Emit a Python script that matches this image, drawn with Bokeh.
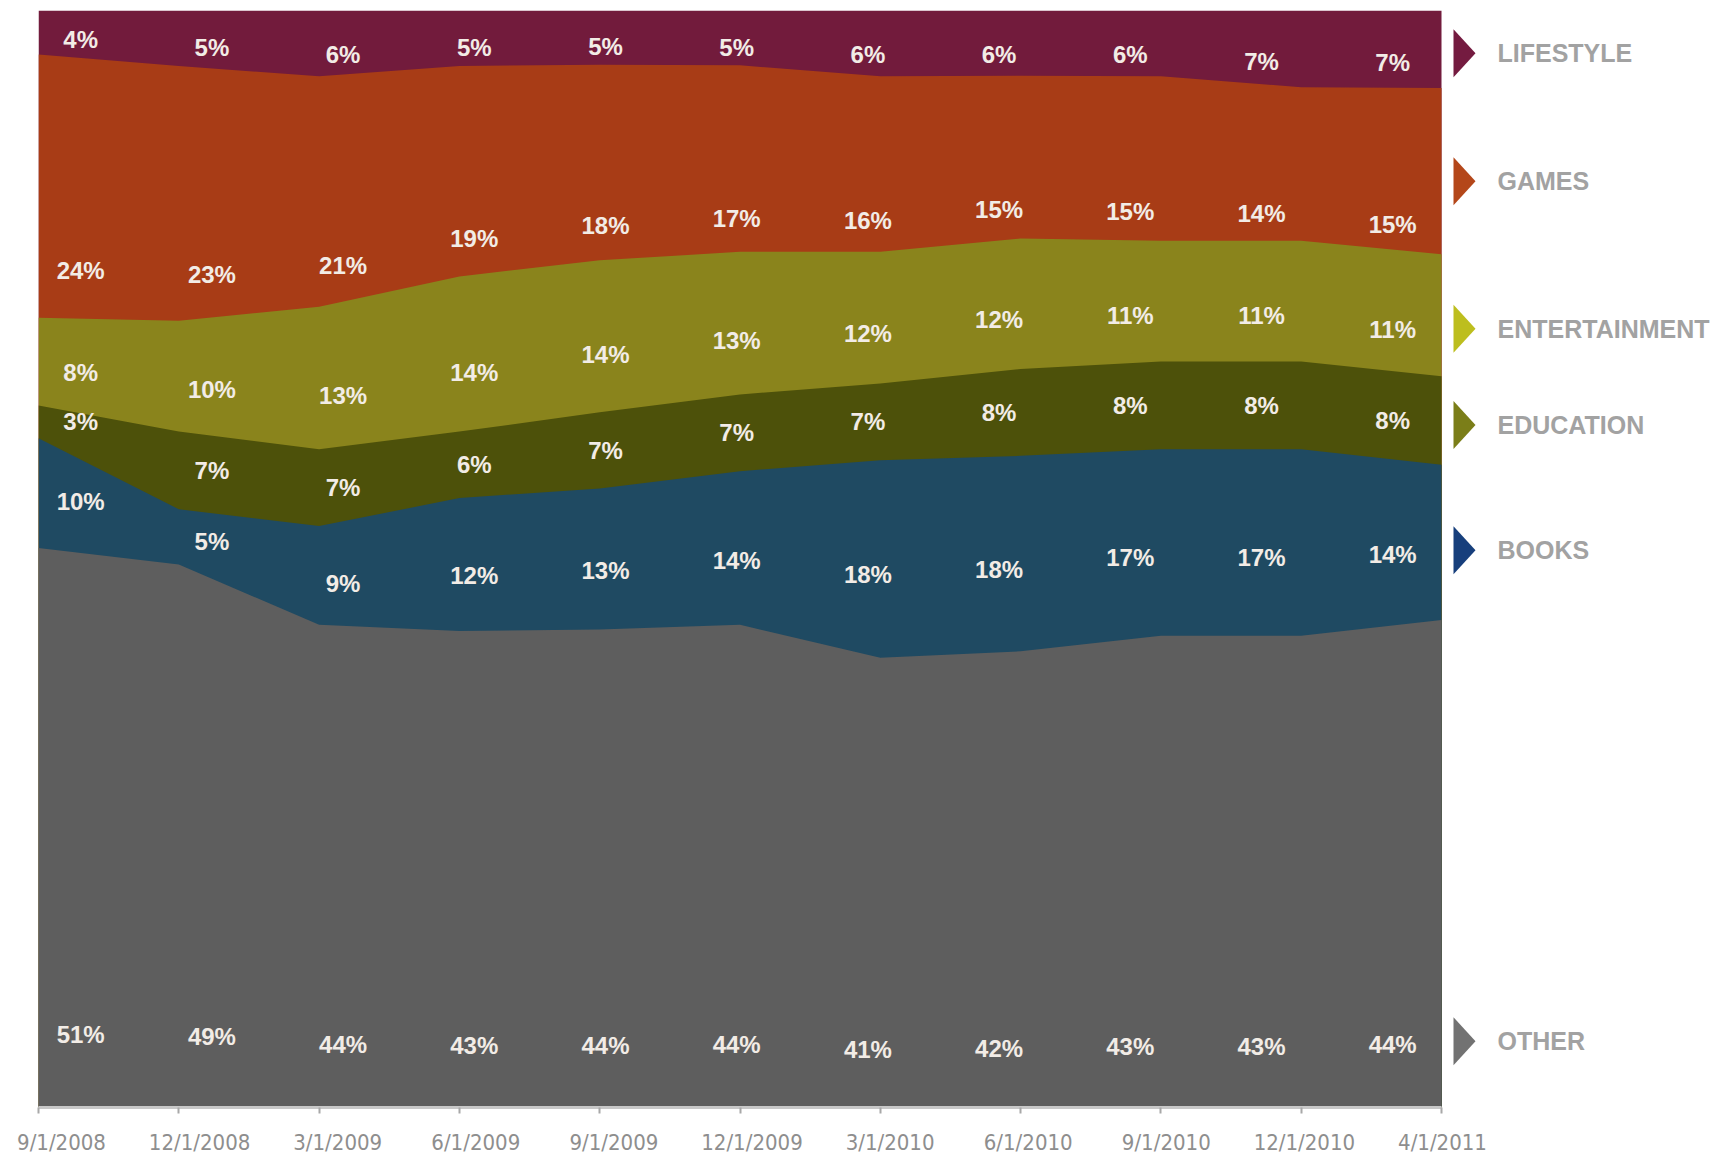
import numpy as np
from bokeh.plotting import figure
from bokeh.models import LinearAxis, FixedTicker, Range1d
from bokeh.core.properties import value
from bokeh.embed import file_html
from bokeh.resources import INLINE

# ---------------- data ----------------
dates = ["9/1/2008", "12/1/2008", "3/1/2009", "6/1/2009", "9/1/2009", "12/1/2009",
         "3/1/2010", "6/1/2010", "9/1/2010", "12/1/2010", "4/1/2011"]
series_names = ["OTHER", "BOOKS", "EDUCATION", "ENTERTAINMENT", "GAMES", "LIFESTYLE"]
other = [51, 49, 44, 43, 44, 44, 41, 42, 43, 43, 44]
books = [10, 5, 9, 12, 13, 14, 18, 18, 17, 17, 14]
education = [3, 7, 7, 6, 7, 7, 7, 8, 8, 8, 8]
entertainment = [8, 10, 13, 14, 14, 13, 12, 12, 11, 11, 11]
games = [24, 23, 21, 19, 18, 17, 16, 15, 15, 14, 15]
lifestyle = [4, 5, 6, 5, 5, 5, 6, 6, 6, 7, 7]

# ---------------- styles ----------------
area_colors = ["#5E5E5E", "#1F4A62", "#4D510A", "#8A841C", "#A83C16", "#721B3C"]
marker_colors = ["#727272", "#173F7C", "#7B7E18", "#BDBE1E", "#B4471A", "#741B40"]
label_anchor = [0.13, 0.42, 0.50, 0.38, 0.18, 0.33]     # relative height in band
legend_anchor = [0.136, 0.45, 0.45, 0.39, 0.44, 0.45]

values = [other, books, education, entertainment, games, lifestyle]
V = np.array(values, dtype=float)
share = V / V.sum(axis=0) * 100.0
top = np.cumsum(share, axis=0)
bottom = top - share
idx = np.arange(len(dates))

FRAME_W, FRAME_H = 1684, 1097
PX_UNIT = 140.3          # px per period on the main x scale
PX_PER_PCT = FRAME_H / 100.0

p = figure(frame_width=FRAME_W, frame_height=FRAME_H,
           x_range=Range1d(0, FRAME_W / PX_UNIT), y_range=Range1d(0, 100),
           output_backend="svg", toolbar_location=None,
           x_axis_location=None, y_axis_location=None,
           min_border_left=38, min_border_top=10, min_border_right=0, min_border_bottom=0,
           background_fill_color="white", border_fill_color="white")
p.outline_line_color = None
p.xgrid.visible = False
p.ygrid.visible = False

p.extra_x_ranges = {
    "pct": Range1d(-0.3216, -0.3216 + FRAME_W / 131.2),
    "lab": Range1d(-0.1666, -0.1666 + FRAME_W / 138.1),
}

# stacked areas (each drawn from 0 so there are no seams)
for k in reversed(range(len(values))):
    p.varea(x=idx, y1=0, y2=top[k], fill_color=area_colors[k], fill_alpha=1.0)

# percentage labels
for k in range(len(values)):
    ly = bottom[k] + label_anchor[k] * share[k]
    p.text(x=idx, y=ly, text=[f"{v}%" for v in values[k]], x_range_name="pct",
           text_align="center", text_baseline="middle",
           text_font=value("Liberation Sans"), text_font_style="bold",
           text_font_size="24px", text_color="#F2ECE6")

# right-side legend
last = idx[-1]
tri_off = 12 / PX_UNIT
tri_w = 22 / PX_UNIT
tri_h = 24 / PX_PER_PCT
txt_off = 56 / PX_UNIT
for k in range(len(values)):
    ly = bottom[k, -1] + legend_anchor[k] * share[k, -1]
    x0 = last + tri_off
    p.patch(x=[x0, x0, x0 + tri_w], y=[ly - tri_h, ly + tri_h, ly],
            fill_color=marker_colors[k], line_color=None)
    p.text(x=[last + txt_off], y=[ly], text=[series_names[k]],
           text_align="left", text_baseline="middle",
           text_font=value("Liberation Sans"), text_font_style="bold",
           text_font_size="25px", text_color="#A2A2A2")

# axis with tick marks
ax1 = LinearAxis(ticker=FixedTicker(ticks=[int(i) for i in idx]), bounds=(0, int(last)),
                 axis_line_color="#C8C8C8", axis_line_width=3,
                 major_tick_out=6, major_tick_in=0,
                 major_tick_line_color="#A8A8A8", major_tick_line_width=2,
                 minor_tick_line_color=None,
                 major_label_text_font_size="1px", major_label_standoff=0,
                 major_label_text_alpha=0)
ax1.major_label_overrides = {int(i): "" for i in idx}
p.add_layout(ax1, "below")

# axis with the date labels
ax2 = LinearAxis(x_range_name="lab", ticker=FixedTicker(ticks=[int(i) for i in idx]),
                 axis_line_color=None, major_tick_line_color=None, minor_tick_line_color=None,
                 major_tick_in=0, major_tick_out=0, major_label_standoff=16,
                 major_label_text_font="DejaVu Sans Condensed",
                 major_label_text_font_size="22px", major_label_text_color="#8E8E8E")
ax2.major_label_overrides = {int(i): d for i, d in zip(idx, dates)}
p.add_layout(ax2, "below")

open("out.html", "w").write(file_html(p, INLINE))
